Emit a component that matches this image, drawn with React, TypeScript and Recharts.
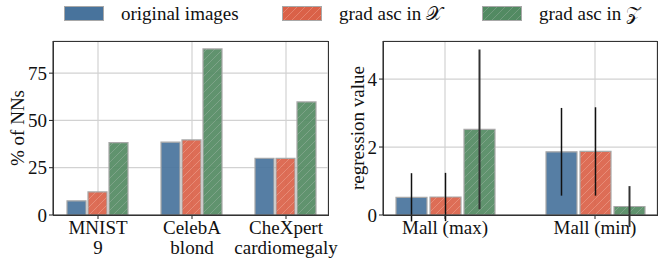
import React from "react";
import { BarChart, Bar, XAxis, YAxis, CartesianGrid, ErrorBar } from "recharts";

// panel izquierdo: % de NNs
const nnCategories = ["MNIST\n9", "CelebA\nblond", "CheXpert\ncardiomegaly"];
const nnOriginal = [7.5, 38.5, 30];
const nnGradX = [12.2, 39.7, 29.9];
const nnGradZ = [38.3, 87.8, 59.8];
const nnTicks = [0, 25, 50, 75];

// panel derecho: regression value
const mallCategories = ["Mall (max)", "Mall (min)"];
const regOriginal = [0.52, 1.86];
const regOriginalErr = [0.71, 1.29];
const regGradX = [0.53, 1.87];
const regGradXErr = [0.71, 1.3];
const regGradZ = [2.52, 0.25];
const regGradZErr = [2.35, 0.6];
const regTicks = [0, 2, 4];

const seriesNames = ["original images", "grad asc in 𝒳", "grad asc in 𝒵"];

const nnData = nnCategories.map((name, i) => ({
  name,
  orig: nnOriginal[i],
  gx: nnGradX[i],
  gz: nnGradZ[i],
}));

const mallData = mallCategories.map((name, i) => ({
  name,
  orig: regOriginal[i],
  origErr: regOriginalErr[i],
  gx: regGradX[i],
  gxErr: regGradXErr[i],
  gz: regGradZ[i],
  gzErr: regGradZErr[i],
}));

const FONT = "'Liberation Serif', 'DejaVu Serif', serif";
const BLUE = "#48739c";
const RED = "#da6148";
const GREEN = "#528a62";
const EDGE = "#a8a8a8";

const Patterns = ({ id }: { id: string }) => (
  <defs>
    <pattern id={`hx-${id}`} patternUnits="userSpaceOnUse" width={8} height={8}>
      <rect width={8} height={8} fill={RED} />
      <path d="M-2,2 l4,-4 M0,8 l8,-8 M6,10 l4,-4" stroke="#e9907c" strokeWidth={0.7} />
    </pattern>
    <pattern id={`hz-${id}`} patternUnits="userSpaceOnUse" width={8} height={8}>
      <rect width={8} height={8} fill={GREEN} />
      <path d="M-2,2 l4,-4 M0,8 l8,-8 M6,10 l4,-4" stroke="#7fa28a" strokeWidth={0.7} />
    </pattern>
  </defs>
);

const MultiTick = (props: any) => {
  const { x, y, payload } = props;
  const lines = String(payload.value).split("\n");
  return (
    <text x={x} y={y} textAnchor="middle" fill="#111" fontSize={19} fontFamily={FONT}>
      {lines.map((l, i) => (
        <tspan key={i} x={x} dy={i === 0 ? 13 : 20}>
          {l}
        </tspan>
      ))}
    </text>
  );
};

const tickStyle = { fontSize: 19, fontFamily: FONT, fill: "#111" };

const Frame = ({ left, width }: { left: number; width: number }) => (
  <div
    style={{
      position: "absolute",
      left,
      top: 41,
      width,
      height: 175,
      border: "1px solid #333",
      boxSizing: "border-box",
      pointerEvents: "none",
    }}
  />
);

const LegendItem = ({ left, fill, label }: { left: number; fill: string; label: string }) => (
  <div style={{ position: "absolute", left, top: 0, display: "flex", alignItems: "center", height: 27 }}>
    <svg width={40} height={15} style={{ marginRight: 17 }}>
      <Patterns id={`lg${left}`} />
      <rect x={0.5} y={0.5} width={39} height={14} fill={fill.replace("lg", `lg${left}`)} stroke={EDGE} />
    </svg>
    <span style={{ fontFamily: FONT, fontSize: 19, color: "#111", whiteSpace: "nowrap" }}>{label}</span>
  </div>
);

const App: React.FC = () => {
  return (
    <div style={{ position: "absolute", left: 0, top: 0, width: 658, height: 261, background: "#fff" }}>
      <LegendItem left={64} fill={BLUE} label={seriesNames[0]} />
      <LegendItem left={282} fill="url(#hx-lg)" label={seriesNames[1]} />
      <LegendItem left={482} fill="url(#hz-lg)" label={seriesNames[2]} />

      <div style={{ position: "absolute", left: 0, top: 0 }}>
        <BarChart
          width={345}
          height={261}
          data={nnData}
          margin={{ top: 41, right: 17, bottom: 0, left: 0 }}
          barCategoryGap={16}
          barGap={2}
        >
          <Patterns id="a" />
          <CartesianGrid stroke="#d2d2d2" strokeWidth={1.2} />
          <XAxis
            dataKey="name"
            interval={0}
            tick={<MultiTick />}
            tickSize={4}
            tickLine={{ stroke: "#222" }}
            axisLine={{ stroke: "#333" }}
            padding={{ left: -2, right: -5 }}
            height={46}
          />
          <YAxis
            domain={[0, 92]}
            ticks={nnTicks}
            width={53}
            tick={tickStyle}
            tickSize={4}
            tickLine={{ stroke: "#222" }}
            axisLine={{ stroke: "#333" }}
            label={{ value: "% of NNs", angle: -90, position: "center", dx: -9, style: tickStyle }}
          />
          <Bar dataKey="orig" name={seriesNames[0]} fill={BLUE} stroke={EDGE} strokeWidth={1.2} fillOpacity={0.92} isAnimationActive={false} />
          <Bar dataKey="gx" name={seriesNames[1]} fill="url(#hx-a)" stroke={EDGE} strokeWidth={1.2} fillOpacity={0.92} isAnimationActive={false} />
          <Bar dataKey="gz" name={seriesNames[2]} fill="url(#hz-a)" stroke={EDGE} strokeWidth={1.2} fillOpacity={0.92} isAnimationActive={false} />
        </BarChart>
      </div>
      <Frame left={53} width={276} />

      <div style={{ position: "absolute", left: 330, top: 0 }}>
        <BarChart
          width={328}
          height={261}
          data={mallData}
          margin={{ top: 41, right: 1, bottom: 0, left: 0 }}
          barCategoryGap={26}
          barGap={3}
        >
          <Patterns id="b" />
          <CartesianGrid stroke="#d2d2d2" strokeWidth={1.2} />
          <XAxis
            dataKey="name"
            interval={0}
            tick={<MultiTick />}
            tickSize={4}
            tickLine={{ stroke: "#222" }}
            axisLine={{ stroke: "#333" }}
            padding={{ left: -13, right: -13 }}
            height={46}
          />
          <YAxis
            domain={[0, 5.12]}
            ticks={regTicks}
            allowDataOverflow
            width={53}
            tick={tickStyle}
            tickSize={4}
            tickLine={{ stroke: "#222" }}
            axisLine={{ stroke: "#333" }}
            label={{ value: "regression value", angle: -90, position: "center", dx: 1, style: tickStyle }}
          />
          <Bar dataKey="orig" name={seriesNames[0]} fill={BLUE} stroke={EDGE} strokeWidth={1.2} fillOpacity={0.92} isAnimationActive={false}>
            <ErrorBar dataKey="origErr" width={0} stroke="#111" strokeWidth={1.5} />
          </Bar>
          <Bar dataKey="gx" name={seriesNames[1]} fill="url(#hx-b)" stroke={EDGE} strokeWidth={1.2} fillOpacity={0.92} isAnimationActive={false}>
            <ErrorBar dataKey="gxErr" width={0} stroke="#111" strokeWidth={1.5} />
          </Bar>
          <Bar dataKey="gz" name={seriesNames[2]} fill="url(#hz-b)" stroke={EDGE} strokeWidth={1.2} fillOpacity={0.92} isAnimationActive={false}>
            <ErrorBar dataKey="gzErr" width={0} stroke="#333" strokeWidth={2} />
          </Bar>
        </BarChart>
      </div>
      <Frame left={383} width={275} />
    </div>
  );
};

export default App;
